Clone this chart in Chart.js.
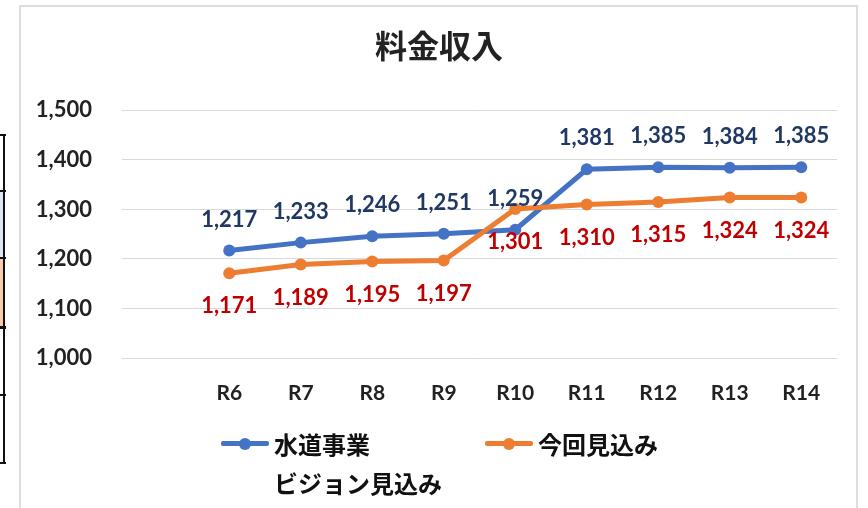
<!DOCTYPE html>
<html><head><meta charset="utf-8">
<script src="https://cdn.jsdelivr.net/npm/chart.js@4/dist/chart.umd.min.js"></script>
<style>
html,body{margin:0;padding:0;background:#fff;width:868px;height:508px;overflow:hidden;position:relative;font-family:Lato,"Noto Sans CJK JP",sans-serif}
#box{position:absolute;left:19px;top:5px;width:839px;height:530px;border:2px solid #dedede;box-sizing:border-box}
#c{position:absolute;left:0;top:0}
.tbl{position:absolute;left:0;width:5px;border-right:2px solid #111;box-sizing:border-box}
.hl{position:absolute;left:0;width:6px;height:2px;background:#111}
#paren{position:absolute;left:-7px;top:100px;font:20px "Noto Sans CJK JP";color:#111}
#legend{position:absolute;left:221px;top:424px;display:grid;grid-template-columns:264px auto;grid-auto-rows:39px;align-items:center}
.item{display:flex;align-items:center;font:bold 24px "Noto Sans CJK JP";color:#111;white-space:nowrap}
.mk{position:relative;width:48px;height:14px;margin-right:5px;flex:none}
.mk .ln{position:absolute;left:0;right:0;top:4.5px;height:5px;border-radius:2px}
.mk .dt{position:absolute;left:18px;top:1px;width:12px;height:12px;border-radius:50%}
</style></head>
<body>
<div id="paren">)</div>
<div class="tbl" style="top:134px;height:330px"></div>
<div class="tbl" style="top:190px;height:68px;background:#dde7f4;border-right:2px solid #111"></div>
<div class="tbl" style="top:258px;height:69px;background:#f7cbab;border-right:2px solid #111"></div>
<div class="hl" style="top:134px"></div>
<div class="hl" style="top:190px"></div>
<div class="hl" style="top:257px"></div>
<div class="hl" style="top:326px;height:3px"></div>
<div class="hl" style="top:394px"></div>
<div class="hl" style="top:462px"></div>
<div id="box"></div>
<canvas id="c" width="868" height="508"></canvas>
<div id="legend"></div>
<script>
const titleText = '料金収入';
const categories = ['', 'R6', 'R7', 'R8', 'R9', 'R10', 'R11', 'R12', 'R13', 'R14'];
const waterValues = [null, 1217, 1233, 1246, 1251, 1259, 1381, 1385, 1384, 1385];
const currentValues = [null, 1171, 1189, 1195, 1197, 1301, 1310, 1315, 1324, 1324];
const visionValues = [];
const seriesNames = ['水道事業', '今回見込み', 'ビジョン見込み'];
const yTicks = [1000, 1100, 1200, 1300, 1400, 1500];

const fmt = v => v.toLocaleString('en-US');

const valueLabels = {
  id: 'valueLabels',
  afterDatasetsDraw(chart) {
    const ctx = chart.ctx;
    chart.data.datasets.forEach((ds, i) => {
      if (!ds.labelColor) return;
      const meta = chart.getDatasetMeta(i);
      meta.data.forEach((pt, j) => {
        const v = ds.data[j];
        if (v == null) return;
        ctx.save();
        ctx.font = 'bold 22px Lato';
        ctx.fillStyle = ds.labelColor;
        ctx.textAlign = 'center';
        ctx.textBaseline = 'middle';
        ctx.fillText(fmt(v), pt.x, pt.y + ds.labelOffset);
        ctx.restore();
      });
    });
  }
};

// let the y tick labels use the space left of the padded scale box (avoid clipping)
const widenYLabels = {
  id: 'widenYLabels',
  afterLayout(chart) { chart.scales.y.left = 0; }
};

const datasets = [
  { label: seriesNames[0], data: waterValues, borderColor: '#4472c4', backgroundColor: '#4472c4',
    borderWidth: 5, pointRadius: 6, pointBorderWidth: 0, pointBackgroundColor: '#4472c4',
    labelColor: '#1f3864', labelOffset: -31, order: 2 },
  { label: seriesNames[1], data: currentValues, borderColor: '#ed7d31', backgroundColor: '#ed7d31',
    borderWidth: 5, pointRadius: 6, pointBorderWidth: 0, pointBackgroundColor: '#ed7d31',
    labelColor: '#c00000', labelOffset: 33, order: 1 },
  { label: seriesNames[2], data: visionValues, borderColor: 'rgba(0,0,0,0)', backgroundColor: 'rgba(0,0,0,0)',
    borderWidth: 0, pointRadius: 0, order: 3 }
];

new Chart(document.getElementById('c'), {
  type: 'line',
  data: { labels: categories, datasets },
  options: {
    responsive: false,
    animation: false,
    layout: { padding: { left: 41, right: 31, top: 0, bottom: 90 } },
    plugins: {
      legend: { display: false },
      tooltip: { enabled: false },
      title: {
        display: true, text: titleText, color: '#222',
        font: { family: '"Noto Sans CJK JP"', size: 32, weight: 'bold' },
        padding: { top: 27, bottom: 45 }
      }
    },
    scales: {
      x: {
        offset: true,
        grid: { display: false, drawTicks: false },
        border: { display: false },
        ticks: { color: '#222', padding: 23, font: { family: 'Lato', size: 21, weight: 'bold' } },
        afterFit: s => { s.height = 60; }
      },
      y: {
        min: 1000, max: 1500,
        afterBuildTicks: s => { s.ticks = yTicks.map(v => ({ value: v })); },
        grid: { color: '#d9d9d9', lineWidth: 1, drawTicks: false },
        border: { display: false },
        ticks: { color: '#222', padding: 30, callback: v => fmt(v), font: { family: 'Lato', size: 22, weight: 'bold' } },
        afterFit: s => { s.width = 81; }
      }
    }
  },
  plugins: [valueLabels, widenYLabels]
});

// HTML legend built from the datasets
const lg = document.getElementById('legend');
datasets.forEach(ds => {
  const it = document.createElement('div');
  it.className = 'item';
  const mk = document.createElement('span');
  mk.className = 'mk';
  if (ds.borderWidth > 0) {
    mk.innerHTML = '<span class="ln" style="background:' + ds.borderColor + '"></span><span class="dt" style="background:' + ds.borderColor + '"></span>';
  }
  it.appendChild(mk);
  const tx = document.createElement('span');
  tx.textContent = ds.label;
  it.appendChild(tx);
  lg.appendChild(it);
});
</script>
</body></html>
